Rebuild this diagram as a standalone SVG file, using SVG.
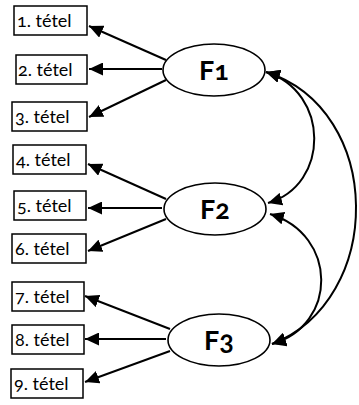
<svg xmlns="http://www.w3.org/2000/svg" width="359" height="405" viewBox="0 0 359 405">
  <style>
    .box { fill: #ffffff; stroke: #000000; stroke-width: 1.5; }
    .item { font-family: Lato, "Open Sans", sans-serif; font-size: 18px; fill: #000000; font-variant-numeric: oldstyle-nums; }
    .factor { fill: #ffffff; stroke: #000000; stroke-width: 1.6; }
    .flabel { font-family: Lato, "Open Sans", sans-serif; font-size: 27px; font-weight: bold; fill: #000000; text-anchor: middle; font-variant-numeric: oldstyle-nums; }
    .link { fill: none; stroke: #000000; stroke-width: 2; }
    .arrow { marker-end: url(#head); }
    .both { marker-start: url(#head); marker-end: url(#head); }
  </style>
  <defs>
    <marker id="head" markerUnits="userSpaceOnUse" markerWidth="15" markerHeight="13" refX="14" refY="6.5" orient="auto-start-reverse">
      <path d="M0,0 L14,6.5 L0,13 Z" fill="#000000"/>
    </marker>
  </defs>

  <!-- connectors: loadings and factor covariances -->
  <g id="connectors">
    <line class="link arrow" x1="166" y1="60" x2="89" y2="26"/>
    <line class="link arrow" x1="162" y1="69" x2="89" y2="69"/>
    <line class="link arrow" x1="166" y1="80" x2="89" y2="117"/>

    <line class="link arrow" x1="166" y1="199" x2="88" y2="164"/>
    <line class="link arrow" x1="162" y1="208" x2="88" y2="208"/>
    <line class="link arrow" x1="166" y1="219" x2="88" y2="251"/>

    <line class="link arrow" x1="170" y1="329" x2="85" y2="296"/>
    <line class="link arrow" x1="166" y1="339" x2="85" y2="339"/>
    <line class="link arrow" x1="170" y1="351" x2="85" y2="382"/>

    <path class="link both" d="M266,72 C330,92 330,185 268,203"/>
    <path class="link both" d="M270,214 C338,235 338,325 272,344"/>
    <path class="link both" d="M266,72 C385,110 385,300 272,344"/>
  </g>

  <!-- observed items -->
  <g id="item1"><rect class="box" x="14" y="6" width="73" height="29"/><text class="item" x="17" y="27">1. tétel</text></g>
  <g id="item2"><rect class="box" x="16" y="55" width="71" height="29"/><text class="item" x="18" y="76">2. tétel</text></g>
  <g id="item3"><rect class="box" x="12" y="102" width="75" height="29"/><text class="item" x="15" y="123">3. tétel</text></g>

  <g id="item4"><rect class="box" x="13" y="145" width="73" height="29"/><text class="item" x="16" y="166">4. tétel</text></g>
  <g id="item5"><rect class="box" x="14" y="191" width="72" height="29"/><text class="item" x="17" y="212">5. tétel</text></g>
  <g id="item6"><rect class="box" x="12" y="234" width="74" height="29"/><text class="item" x="15" y="255">6. tétel</text></g>

  <g id="item7"><rect class="box" x="12" y="282" width="72" height="29"/><text class="item" x="15" y="303">7. tétel</text></g>
  <g id="item8"><rect class="box" x="12" y="325" width="72" height="29"/><text class="item" x="15" y="346">8. tétel</text></g>
  <g id="item9"><rect class="box" x="11" y="369" width="72" height="29"/><text class="item" x="14" y="390">9. tétel</text></g>

  <!-- latent factors -->
  <g id="F1"><ellipse class="factor" cx="214" cy="70" rx="51" ry="26"/><text class="flabel" x="214" y="80">F1</text></g>
  <g id="F2"><ellipse class="factor" cx="215" cy="209" rx="51" ry="26"/><text class="flabel" x="215" y="219">F2</text></g>
  <g id="F3"><ellipse class="factor" cx="219" cy="340" rx="51" ry="26"/><text class="flabel" x="219" y="350">F3</text></g>
</svg>
